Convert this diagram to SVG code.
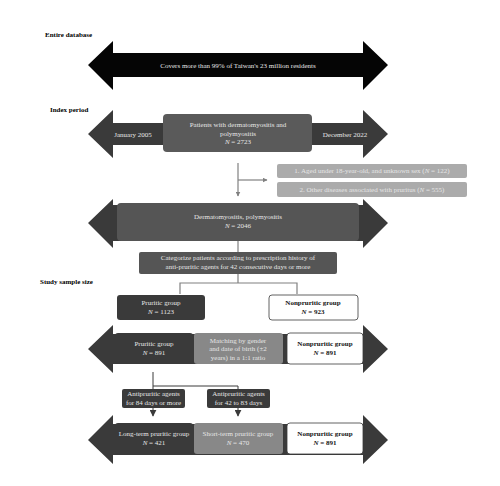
<svg xmlns="http://www.w3.org/2000/svg" width="500" height="486" viewBox="0 0 500 486">
<style>
text{font-family:"Liberation Serif","DejaVu Serif",serif;font-size:7px;text-anchor:middle}
.w{fill:#e6e6e6}
.d{fill:#111;font-weight:bold}
.lab{fill:#000;font-weight:bold;text-anchor:start;font-size:7px}
.i{font-style:italic}
.arr{fill:#3a3a3a}
.g{stroke:#808080;stroke-width:1.2;fill:none}
.k{stroke:#3a3a3a;stroke-width:1;fill:none}
</style>
<defs>
<marker id="mg" viewBox="0 0 10 10" refX="9" refY="5" markerWidth="5" markerHeight="5" orient="auto" markerUnits="userSpaceOnUse"><path d="M0,0L10,5L0,10z" fill="#808080"/></marker>
<marker id="mk" viewBox="0 0 10 10" refX="9" refY="5" markerWidth="7" markerHeight="7" orient="auto" markerUnits="userSpaceOnUse"><path d="M0,0L10,5L0,10z" fill="#3a3a3a"/></marker>
</defs>
<rect width="500" height="486" fill="#fff"/>
<text class="lab" x="45" y="37">Entire database</text>
<text class="lab" x="50" y="112">Index period</text>
<text class="lab" x="40" y="284">Study sample size</text>

<g id="connectors">
<path class="g" d="M238,163V196" marker-end="url(#mg)"/>
<path class="g" d="M238,180H267" marker-end="url(#mg)"/>
<path class="g" d="M238,241V252"/>
<path class="g" d="M238,274V283M180,294V283H297V294"/>
<path class="k" d="M153,372V416" marker-end="url(#mk)"/>
<path class="k" d="M153,386H238V416" marker-end="url(#mk)"/>
</g>

<g id="database">
<path fill="#050505" d="M88,65L113,41V53H363V41L388,65L363,90V77H113V90Z"/>
<text class="w" x="238" y="67.5">Covers more than 99% of Taiwan's 23 million residents</text>
</g>

<g id="index-period">
<path class="arr" d="M88,134L113,110V123H363V110L388,134L363,158V145H113V158Z"/>
<text class="w" x="133" y="136.5">January 2005</text>
<text class="w" x="345" y="136.5">December 2022</text>
</g>
<g id="patients">
<rect x="163" y="114" width="149" height="38" rx="4" fill="#5a5a5a"/>
<text class="w" x="238" y="126.5">Patients with dermatomyositis and</text>
<text class="w" x="238" y="135.5">polymyositis</text>
<text class="w" x="238" y="144"><tspan class="i">N</tspan> = 2723</text>
</g>

<g id="exclusion1">
<rect x="277" y="164" width="190" height="14" rx="2" fill="#ababab"/>
<text class="w" x="372" y="173.3">1. Aged under 18-year-old, and unknown sex (<tspan class="i">N</tspan> = 122)</text>
</g>
<g id="exclusion2">
<rect x="277" y="182" width="190" height="15" rx="2" fill="#ababab"/>
<text class="w" x="372" y="191.8">2. Other diseases associated with pruritus (<tspan class="i">N</tspan> = 555)</text>
</g>

<g id="dm-pm">
<path class="arr" d="M88,223L113,199V205H363V199L388,223L363,248V241H113V248Z"/>
<rect x="117" y="203" width="242" height="38" rx="4" fill="#555"/>
<text class="w" x="238" y="219.3">Dermatomyositis, polymyositis</text>
<text class="w" x="238" y="228.3"><tspan class="i">N</tspan> = 2046</text>
</g>

<g id="categorize">
<rect x="139" y="252" width="198" height="22" rx="2" fill="#555"/>
<text class="w" x="238" y="260.3">Categorize patients according to prescription history of</text>
<text class="w" x="238" y="269.3">anti-pruritic agents for 42 consecutive days or more</text>
</g>

<g id="pruritic-1123">
<rect x="117" y="295" width="88" height="25" rx="3" fill="#3a3a3a"/>
<text class="w" x="161" y="305.3">Pruritic group</text>
<text class="w" x="161" y="314.3"><tspan class="i">N</tspan> = 1123</text>
</g>
<g id="nonpruritic-923">
<rect x="269" y="295" width="89" height="25" rx="3" fill="#fff" stroke="#3a3a3a" stroke-width="0.8"/>
<text class="d" x="313" y="305.3">Nonpruritic group</text>
<text class="d" x="313" y="314.3"><tspan class="i">N</tspan> = 923</text>
</g>

<g id="matched">
<path class="arr" d="M88,349L113,325V334H363V325L388,349L363,373V364H113V373Z"/>
</g>
<g id="pruritic-891">
<rect x="115" y="333" width="78" height="31" rx="3" fill="#3a3a3a"/>
<text class="w" x="154" y="346.3">Pruritic group</text>
<text class="w" x="154" y="355.3"><tspan class="i">N</tspan> = 891</text>
</g>
<g id="matching">
<rect x="194" y="333" width="89" height="31" rx="3" fill="#888"/>
<text class="w" x="238" y="343.3">Matching by gender</text>
<text class="w" x="238" y="351.3">and date of birth (±2</text>
<text class="w" x="238" y="360.3">years) in a 1:1 ratio</text>
</g>
<g id="nonpruritic-891a">
<rect x="287" y="333" width="76" height="31" rx="3" fill="#fff" stroke="#3a3a3a" stroke-width="0.8"/>
<text class="d" x="325" y="346.3">Nonpruritic group</text>
<text class="d" x="325" y="355.3"><tspan class="i">N</tspan> = 891</text>
</g>

<g id="agents-84">
<rect x="122" y="389" width="63" height="19" rx="2" fill="#3a3a3a"/>
<text class="w" x="153.5" y="396.3">Antipruritic agents</text>
<text class="w" x="153.5" y="404.5">for 84 days or more</text>
</g>
<g id="agents-42">
<rect x="207" y="389" width="63" height="19" rx="2" fill="#3a3a3a"/>
<text class="w" x="238.5" y="396.3">Antipruritic agents</text>
<text class="w" x="238.5" y="404.5">for 42 to 83 days</text>
</g>

<g id="final">
<path class="arr" d="M88,440L113,415V424H363V415L388,440L363,464V455H113V464Z"/>
</g>
<g id="long-term">
<rect x="115" y="423" width="78" height="31" rx="3" fill="#3a3a3a"/>
<text class="w" x="154" y="436.3">Long-term pruritic group</text>
<text class="w" x="154" y="445.3"><tspan class="i">N</tspan> = 421</text>
</g>
<g id="short-term">
<rect x="194" y="423" width="89" height="31" rx="3" fill="#888"/>
<text class="w" x="238" y="436.3">Short-term pruritic group</text>
<text class="w" x="238" y="445.3"><tspan class="i">N</tspan> = 470</text>
</g>
<g id="nonpruritic-891b">
<rect x="287" y="423" width="76" height="31" rx="3" fill="#fff" stroke="#3a3a3a" stroke-width="0.8"/>
<text class="d" x="325" y="436.3">Nonpruritic group</text>
<text class="d" x="325" y="445.3"><tspan class="i">N</tspan> = 891</text>
</g>
</svg>
